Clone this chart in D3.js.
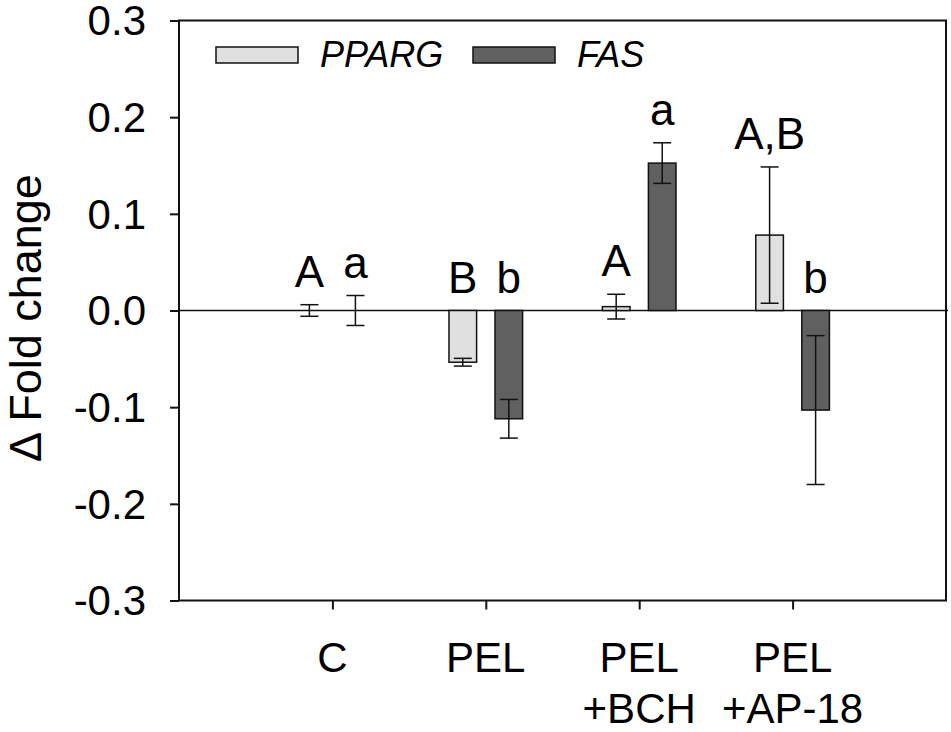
<!DOCTYPE html>
<html>
<head>
<meta charset="utf-8">
<script src="https://cdn.jsdelivr.net/npm/d3@7"></script>
<style>
    body { margin: 0; background: #fff; }
    svg { display: block; font-family: "Liberation Sans", Arial, sans-serif; }
</style>
</head>
<body>
<svg id="chart" width="951" height="732"></svg>
<script>
// values
const categories = [["C"], ["PEL"], ["PEL", "+BCH"], ["PEL", "+AP-18"]];
const ppargMean = [0.000, -0.0535, 0.004, 0.078];
const ppargErr = [0.006, 0.004, 0.0128, 0.0705];
const fasMean = [0.000, -0.112, 0.1525, -0.103];
const fasErr = [0.0155, 0.020, 0.021, 0.077];
const ppargLetters = ["A", "B", "A", "A,B"];
const fasLetters = ["a", "b", "a", "b"];
const yTicks = [-0.3, -0.2, -0.1, 0.0, 0.1, 0.2, 0.3];

const series = [
    { name: "PPARG", mean: ppargMean, err: ppargErr, letters: ppargLetters, color: "#e0e0e0", shift: -0.15 },
    { name: "FAS", mean: fasMean, err: fasErr, letters: fasLetters, color: "#606060", shift: 0.15 }
];

let svg = d3.select("#chart");
let margin = { top: 20.5, right: 5, bottom: 131.5, left: 179 };
let width = 951 - margin.left - margin.right;
let height = 732 - margin.top - margin.bottom;

let g = svg.append("g")
    .attr("transform", "translate(" + margin.left + "," + margin.top + ")");

let x = d3.scaleLinear().domain([0, 5]).range([0, width]);
let y = d3.scaleLinear().domain([-0.3, 0.3]).range([height, 0]);
let barWidth = x(0.18) - x(0);

// frame
g.append("rect")
    .attr("width", width)
    .attr("height", height)
    .attr("fill", "none")
    .attr("stroke", "#111")
    .attr("stroke-width", 2);

// zero line
g.append("line")
    .attr("x1", 0)
    .attr("x2", width + 2)
    .attr("y1", y(0))
    .attr("y2", y(0))
    .attr("stroke", "#111")
    .attr("stroke-width", 1.5);

// y axis
let yAxis = g.append("g")
    .call(d3.axisLeft(y)
        .tickValues(yTicks)
        .tickSize(9)
        .tickPadding(24)
        .tickFormat(function(d) { return d.toFixed(1); }));
yAxis.select(".domain").remove();
yAxis.selectAll("line").attr("stroke", "#111").attr("stroke-width", 2);
yAxis.selectAll("text")
    .attr("fill", "#000")
    .attr("dy", "0.34em")
    .style("font-size", "42px");

// x axis
let xAxis = g.append("g")
    .attr("transform", "translate(0," + height + ")")
    .call(d3.axisBottom(x)
        .tickValues([1, 2, 3, 4])
        .tickSize(9)
        .tickFormat(""));
xAxis.select(".domain").remove();
xAxis.selectAll("line").attr("stroke", "#111").attr("stroke-width", 2);

let catText = g.append("g")
    .selectAll("text")
    .data(categories)
    .enter()
    .append("text")
    .attr("text-anchor", "middle")
    .attr("fill", "#000")
    .style("font-size", "42px");
catText.selectAll("tspan")
    .data(function(d) { return d; })
    .enter()
    .append("tspan")
    .attr("x", function(d, i, nodes) {
        let idx = categories.indexOf(d3.select(nodes[i].parentNode).datum());
        return x(idx + 1);
    })
    .attr("y", function(d, i) { return height + 71 + i * 51; })
    .text(function(d) { return d; });

// bars, error bars, letters
series.forEach(function(s) {
    let grp = g.append("g");
    s.mean.forEach(function(v, i) {
        let cx = x(i + 1 + s.shift);
        grp.append("rect")
            .attr("x", cx - barWidth / 2)
            .attr("y", y(Math.max(v, 0)))
            .attr("width", barWidth)
            .attr("height", Math.abs(y(v) - y(0)))
            .attr("fill", s.color)
            .attr("stroke", "#111")
            .attr("stroke-width", 1.5);

        let hi = y(v + s.err[i]);
        let lo = y(v - s.err[i]);
        grp.append("line")
            .attr("x1", cx).attr("x2", cx)
            .attr("y1", hi).attr("y2", lo)
            .attr("stroke", "#111").attr("stroke-width", 1.5);
        [hi, lo].forEach(function(yy) {
            grp.append("line")
                .attr("x1", cx - 9).attr("x2", cx + 9)
                .attr("y1", yy).attr("y2", yy)
                .attr("stroke", "#111").attr("stroke-width", 1.5);
        });

        grp.append("text")
            .attr("x", cx)
            .attr("y", y(Math.max(v + s.err[i], 0)) - 18)
            .attr("text-anchor", "middle")
            .attr("fill", "#000")
            .style("font-size", "44px")
            .text(s.letters[i]);
    });
});

// legend
let legend = svg.append("g");
let legendX = [216, 473];
series.forEach(function(s, i) {
    legend.append("rect")
        .attr("x", legendX[i])
        .attr("y", 47)
        .attr("width", 82)
        .attr("height", 16)
        .attr("fill", s.color)
        .attr("stroke", "#111")
        .attr("stroke-width", 1.5);
    legend.append("text")
        .attr("x", legendX[i] + 104)
        .attr("y", 67)
        .attr("fill", "#000")
        .style("font-size", "36px")
        .style("font-style", "italic")
        .text(s.name);
});

// y axis title
svg.append("text")
    .attr("transform", "rotate(-90)")
    .attr("x", -318)
    .attr("y", 41)
    .attr("text-anchor", "middle")
    .attr("fill", "#000")
    .style("font-size", "45px")
    .text("\u0394 Fold change");
</script>
</body>
</html>
